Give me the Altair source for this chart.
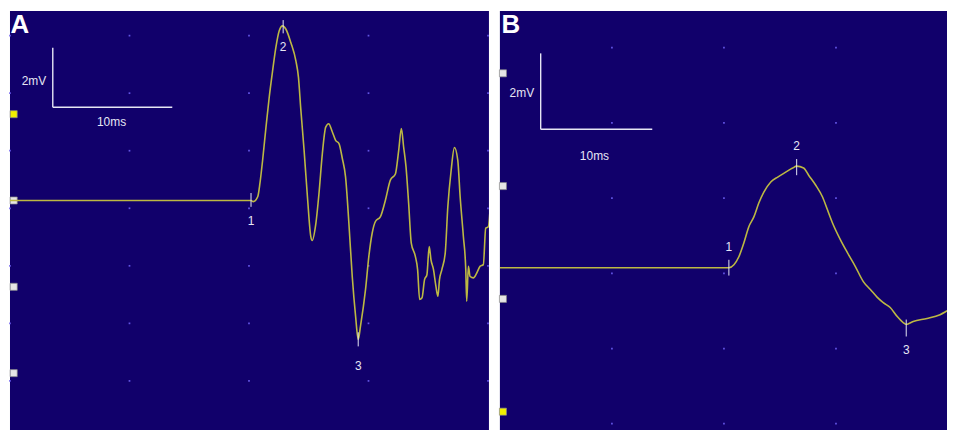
import altair as alt
import pandas as pd

BG = "#11006b"
TRACE = "#bdb843"
MARK = "#e6e6f4"
DOT = "#6a5cf0"

# ---------------- Panel A (time in ms, amplitude in mV) ----------------
a_time = [0, 20.17, 20.36, 20.73, 20.92, 21.14, 21.42, 21.69, 21.98, 22.25, 22.53, 22.81,
          23.08, 23.50, 23.92, 24.14, 24.33, 24.61, 24.89, 25.17, 25.29, 25.58, 25.86, 26.14,
          26.42, 26.67, 26.96, 27.25, 27.53, 27.81, 28.08, 28.36, 28.64, 28.92, 29.14, 29.33,
          29.75, 30.03, 30.31, 30.58, 31.00, 31.42, 31.83, 32.25, 32.53, 32.75, 32.94, 33.14,
          33.36, 33.58, 33.92, 34.11, 34.28, 34.48, 34.69, 34.89, 35.08, 35.23, 35.44, 35.64,
          35.81, 35.94, 36.14, 36.42, 36.64, 36.92, 37.19, 37.47, 37.67, 37.94, 38.14, 38.22,
          38.36, 38.50, 38.78, 39.06, 39.33, 39.61, 39.81, 40.03, 40.17]
a_volt = [0, 0, -0.04, 0.13, 0.61, 1.40, 2.54, 3.58, 4.52, 5.32, 5.90, 6.07,
          5.96, 5.49, 4.86, 4.28, 3.20, 1.75, 0.13, -1.25, -1.39, -0.85, 0.26, 1.64,
          2.55, 2.67, 2.40, 2.09, 1.98, 1.46, 0.82, -0.79, -2.64, -4.02, -4.83, -4.37,
          -3.10, -1.94, -1.13, -0.73, -0.56, 0.02, 0.71, 0.92, 1.75, 2.50, 1.86, 1.17,
          -0.10, -1.48, -1.94, -2.40, -3.44, -3.38, -2.75, -2.58, -1.60, -2.06, -2.40, -2.98,
          -3.33, -2.75, -2.40, -1.83, -0.21, 1.06, 1.84, 1.40, 0.13, -1.25, -2.40, -3.50,
          -2.29, -2.64, -2.69, -2.52, -2.29, -2.23, -0.96, -0.91, -0.33]
a_xdom = [0, 40.08]
a_ydom = [-7.98, 6.59]
a_grid_t = [0, 10, 20, 30, 40]
a_grid_v = [5.73, 3.73, 1.73, -0.27, -2.27, -4.27, -6.27]
a_mark_labels = ["1", "2", "3"]
a_mark_t = [20.17, 22.86, 29.14]
a_mark_top = [0.26, 6.27, -4.58]
a_mark_bot = [-0.22, 5.81, -5.07]
a_mark_text_v = [-0.71, 5.34, -5.75]
a_bar_t = [3.58, 13.58]
a_bar_v = [5.31, 3.24]
a_lab_2mv = [2.0, 4.17]
a_lab_10ms = [8.5, 2.72]
a_side_v = [3.0, 0.0, -3.0, -6.0]
a_side_col = ["#f2f000", "#e6e6e6", "#e6e6e6", "#e6e6e6"]
a_side_t = 0.31
a_letter = ["A", 0.83, 5.83]

# ---------------- Panel B ----------------
b_time = [0, 20.44, 20.89, 21.33, 21.78, 22.22, 22.67, 23.11, 23.56, 24.18, 24.80, 25.51,
          26.13, 26.49, 27.11, 27.56, 28.18, 28.80, 29.24, 29.69, 30.40, 31.02, 31.73, 32.44,
          33.07, 33.69, 34.22, 34.84, 35.47, 36.00, 36.27, 36.89, 38.13, 39.29, 40.18, 40.62]
b_volt = [0, 0, 0.08, 0.29, 0.66, 1.09, 1.35, 1.72, 2.01, 2.28, 2.41, 2.54,
          2.65, 2.70, 2.65, 2.46, 2.20, 1.88, 1.54, 1.19, 0.74, 0.40, 0.03, -0.37,
          -0.58, -0.79, -0.93, -1.06, -1.30, -1.46, -1.51, -1.43, -1.35, -1.25, -1.11, -1.06]
b_xdom = [0, 39.91]
b_ydom = [-4.32, 6.83]
b_grid_t = [10, 20, 30]
b_grid_v = [5.85, 3.85, 1.85, -0.15, -2.15, -4.15]
b_mark_labels = ["1", "2", "3"]
b_mark_t = [20.44, 26.49, 36.27]
b_mark_top = [0.21, 2.89, -1.38]
b_mark_bot = [-0.21, 2.46, -1.83]
b_mark_text_v = [0.56, 3.23, -2.19]
b_bar_t = [3.64, 13.6]
b_bar_v = [5.70, 3.68]
b_lab_2mv = [1.96, 4.64]
b_lab_10ms = [8.44, 2.97]
b_side_v = [5.17, 2.17, -0.83, -3.83]
b_side_col = ["#e6e6e6", "#e6e6e6", "#e6e6e6", "#f2f000"]
b_side_t = 0.27
b_letter = ["B", 0.98, 6.25]

SMALL_FONT = "Liberation Sans Narrow, Liberation Sans, Arial"


def panel(time, volt, xdom, ydom, grid_t, grid_v, mlab, mt, mtop, mbot, mtxt,
          bar_t, bar_v, lab2, lab10, side_v, side_col, side_t, letter, w, h):
    xs = alt.Scale(domain=xdom, nice=False, zero=False)
    ys = alt.Scale(domain=ydom, nice=False, zero=False)

    def X(f):
        return alt.X(f, type="quantitative", scale=xs, axis=None)

    def Y(f):
        return alt.Y(f, type="quantitative", scale=ys, axis=None)

    grid = pd.DataFrame([(t, v) for t in grid_t for v in grid_v], columns=["t", "v"])
    dots = alt.Chart(grid).mark_square(size=3, color=DOT, opacity=0.9).encode(x=X("t"), y=Y("v"))

    bars = pd.DataFrame({
        "t": [bar_t[0], bar_t[0]], "t2": [bar_t[0], bar_t[1]],
        "v": [bar_v[0], bar_v[1]], "v2": [bar_v[1], bar_v[1]],
    })
    scale_bars = alt.Chart(bars).mark_rule(color=MARK, strokeWidth=1.4).encode(
        x=X("t"), x2="t2", y=Y("v"), y2="v2")

    scale_txt = pd.DataFrame({"t": [lab2[0], lab10[0]], "v": [lab2[1], lab10[1]],
                              "s": ["2mV", "10ms"]})
    scale_labels = alt.Chart(scale_txt).mark_text(
        color=MARK, font=SMALL_FONT, fontSize=12, align="center", baseline="middle"
    ).encode(x=X("t"), y=Y("v"), text="s:N")

    side = pd.DataFrame({"t": [side_t] * len(side_v), "v": side_v, "c": side_col})
    side_sq = alt.Chart(side).mark_square(size=50, opacity=1, stroke="#8a8a8a", strokeWidth=0.7).encode(
        x=X("t"), y=Y("v"), fill=alt.Fill("c:N", scale=None))

    trace_df = pd.DataFrame({"t": time, "v": volt})
    trace = alt.Chart(trace_df).mark_line(color=TRACE, strokeWidth=1.6, clip=True,
                                          interpolate="monotone").encode(
        x=X("t"), y=Y("v"), order="t:Q")

    mk = pd.DataFrame({"t": mt, "v": mtop, "v2": mbot, "tv": mtxt, "s": mlab})
    ticks = alt.Chart(mk).mark_rule(color=MARK, strokeWidth=1).encode(x=X("t"), y=Y("v"), y2="v2")
    tick_labels = alt.Chart(mk).mark_text(
        color=MARK, font=SMALL_FONT, fontSize=12, align="center", baseline="middle"
    ).encode(x=X("t"), y=Y("tv"), text="s:N")

    let_df = pd.DataFrame({"t": [letter[1]], "v": [letter[2]], "s": [letter[0]]})
    let = alt.Chart(let_df).mark_text(
        color="white", font="Liberation Sans, Arial", fontWeight="bold", fontSize=26,
        align="center", baseline="alphabetic"
    ).encode(x=X("t"), y=Y("v"), text="s:N")

    return alt.layer(dots, scale_bars, scale_labels, side_sq, trace, ticks, tick_labels, let).properties(
        width=w, height=h)


pa = panel(a_time, a_volt, a_xdom, a_ydom, a_grid_t, a_grid_v, a_mark_labels, a_mark_t,
           a_mark_top, a_mark_bot, a_mark_text_v, a_bar_t, a_bar_v, a_lab_2mv, a_lab_10ms,
           a_side_v, a_side_col, a_side_t, a_letter, 481, 421)
pb = panel(b_time, b_volt, b_xdom, b_ydom, b_grid_t, b_grid_v, b_mark_labels, b_mark_t,
           b_mark_top, b_mark_bot, b_mark_text_v, b_bar_t, b_bar_v, b_lab_2mv, b_lab_10ms,
           b_side_v, b_side_col, b_side_t, b_letter, 449, 421)

chart = alt.hconcat(pa, pb, spacing=9).configure(
    padding={"left": 0, "top": 2, "right": 0, "bottom": 0},
    background="white",
).configure_view(fill=BG, stroke=None)

chart.save("out.html", embed_options={"renderer": "svg", "actions": False})
